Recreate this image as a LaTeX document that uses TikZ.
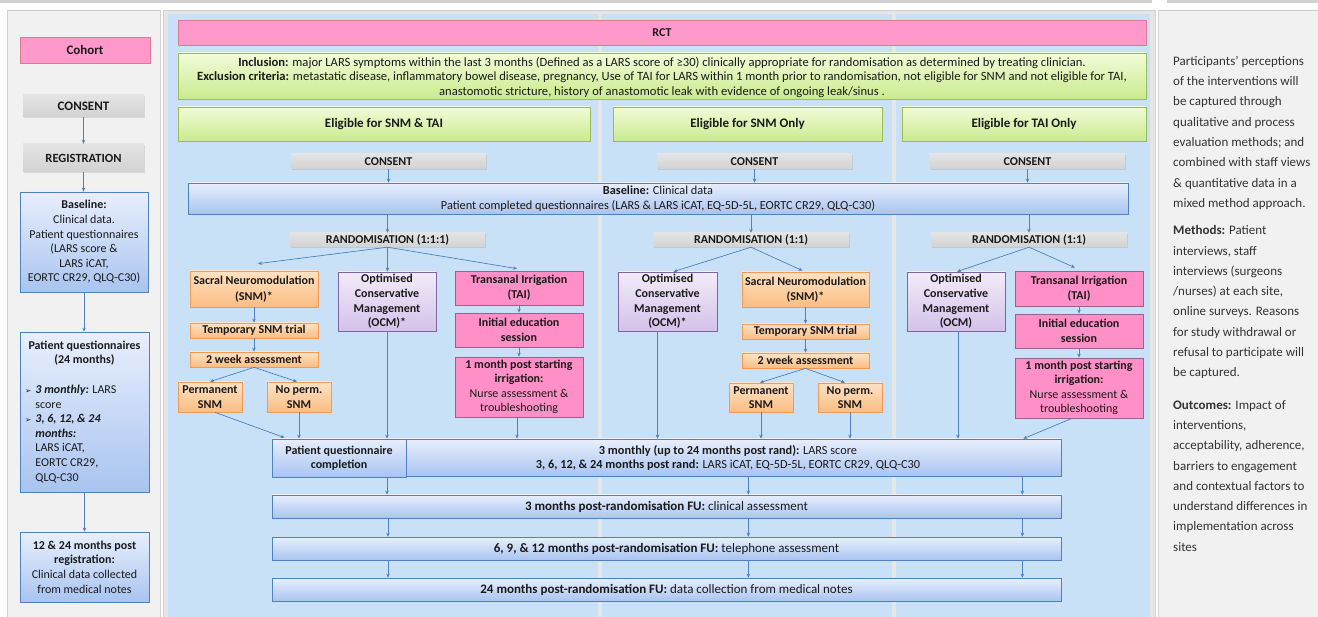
\documentclass[tikz,border=0pt]{standalone}
\usepackage{fontspec}
\setmainfont{Carlito}
\newfontfamily\dejavu{DejaVu Sans}
\usetikzlibrary{arrows.meta,shadows}
\definecolor{pinkc}{HTML}{FF99CC}
\definecolor{pinkd}{HTML}{DB7C92}
\definecolor{taic}{HTML}{FF8FC7}
\definecolor{taid}{HTML}{9E5F8E}
\definecolor{greent}{HTML}{F2FBD9}
\definecolor{greenb}{HTML}{C9EB8E}
\definecolor{greend}{HTML}{9BBB59}
\definecolor{grayt}{HTML}{E4E4E4}
\definecolor{grayb}{HTML}{D2D2D2}
\definecolor{oranget}{HTML}{FFE2C4}
\definecolor{orangeb}{HTML}{FBBD82}
\definecolor{oranged}{HTML}{F59A55}
\definecolor{purplet}{HTML}{F2EBF9}
\definecolor{purpleb}{HTML}{D3C2EA}
\definecolor{purpled}{HTML}{8064A2}
\definecolor{bluet}{HTML}{E8EFFD}
\definecolor{blueb}{HTML}{A9C4F0}
\definecolor{blued}{HTML}{4F81BD}
\definecolor{bgblue}{HTML}{C8E1F7}
\definecolor{panelgray}{HTML}{F1F1F1}
\definecolor{paneld}{HTML}{D0D0D0}
\definecolor{sepc}{HTML}{E6E6E6}
\definecolor{arrowc}{HTML}{4F81BD}
\definecolor{txt}{HTML}{1A1A1A}
\begin{document}
\begin{tikzpicture}[x=1pt,y=-1pt,
  base/.style={inner sep=1pt, align=center, text=txt,
    drop shadow={shadow xshift=1pt,shadow yshift=-1.2pt,opacity=0.22},
    font=\fontsize{12}{14.6}\selectfont},
  pinkbox/.style={base, fill=pinkc, draw=pinkd, line width=0.8pt},
  taibox/.style={base, fill=taic, draw=taid, line width=0.7pt},
  greenbox/.style={base, top color=greent, bottom color=greenb, draw=greend, line width=0.8pt},
  graybar/.style={base, top color=grayt, bottom color=grayb, draw=none},
  orangebox/.style={base, top color=oranget, bottom color=orangeb, draw=oranged, line width=0.7pt},
  purplebox/.style={base, top color=purplet, bottom color=purpleb, draw=purpled, line width=0.7pt},
  bluebox/.style={base, top color=bluet, bottom color=blueb, draw=blued, line width=0.7pt},
  plain/.style={inner sep=0pt, text=txt},
  bfs/.style={font=\fontsize{12}{14.6}\selectfont\bfseries},
  arr/.style={-{Stealth[length=4pt,width=3.5pt]}, draw=arrowc, line width=0.7pt}
]
\useasboundingbox (0,0) rectangle (1318,617);
\fill[white] (0,0) rectangle (1318,617);
% top strip
\fill[paneld] (0,0) rectangle (1152,3);
\fill[paneld] (1167,0) rectangle (1318,3);
% panels
\filldraw[fill=panelgray, draw=paneld] (7,10) rectangle (160,619);
\filldraw[fill=sepc, draw=paneld] (163,10) rectangle (1155,619);
\fill[bgblue] (168,14) rectangle (1150,619);
\fill[sepc] (598,14) rectangle (602,619);
\fill[sepc] (892,14) rectangle (896,619);
\filldraw[fill=panelgray, draw=paneld] (1158,10) rectangle (1320,619);

% ---------- left column ----------
\node[pinkbox, minimum width=130, minimum height=26, font=\fontsize{13}{14}\selectfont\bfseries] (cohort) at (85,50) {Cohort};
\node[graybar, minimum width=121, minimum height=22, font=\fontsize{13}{14}\selectfont\bfseries] (consentL) at (83.5,106) {CONSENT};
\node[graybar, minimum width=121, minimum height=28, font=\fontsize{12.5}{14}\selectfont\bfseries] (regL) at (83.5,158) {REGISTRATION};
\node[bluebox, minimum width=128, minimum height=100] (baseL) at (84,242)
  {\textbf{Baseline:}\\Clinical data.\\Patient questionnaires\\(LARS score \&\\LARS iCAT,\\EORTC CR29, QLQ-C30)};
\node[bluebox, minimum width=129, minimum height=160] (pqL) at (84.5,412) {};
\node[plain, anchor=north, align=center, bfs] (pqLt) at (84.5,340.5)
  {Patient questionnaires\\(24 months)};
\node[plain, anchor=north west, font=\fontsize{12}{14.6}\selectfont] (pqLb) at (25,383)
  {\begin{tabular}{@{}l@{\hspace{4pt}}l@{}}
   {\dejavu\fontsize{7.5}{7}\selectfont ➢} & \textbf{\textit{3 monthly:}} LARS\\
   & score\\
   {\dejavu\fontsize{7.5}{7}\selectfont ➢} & \textbf{\textit{3, 6, 12, \& 24}}\\
   & \textbf{\textit{months:}}\\
   & LARS iCAT,\\
   & EORTC CR29,\\
   & QLQ-C30
   \end{tabular}};
\node[bluebox, minimum width=129, minimum height=70] (fuL) at (84.5,567)
  {\textbf{12 \& 24 months post}\\\textbf{registration:}\\Clinical data collected\\from medical notes};
\draw[arr] (consentL.south) -- (consentL.south |- regL.north);
\draw[arr] (regL.south) -- (regL.south |- baseL.north);
\draw[arr] (baseL.south) -- (baseL.south |- pqL.north);
\draw[arr] (pqL.south) -- (pqL.south |- fuL.north);

% ---------- RCT header ----------
\node[pinkbox, minimum width=968, minimum height=25, bfs] (rct) at (662,32.5) {RCT};
\node[greenbox, minimum width=968, minimum height=46] (incl) at (662,76) {};
\node[plain, align=center, font=\fontsize{12.6}{14.5}\selectfont] (inclt) at (662,77)
  {\textbf{Inclusion:} major LARS symptoms within the last 3 months (Defined as a LARS score of ≥30) clinically appropriate for randomisation as determined by treating clinician.\\
   \textbf{Exclusion criteria:} metastatic disease, inflammatory bowel disease, pregnancy, Use of TAI for LARS within 1 month prior to randomisation, not eligible for SNM and not eligible for TAI,\\
   anastomotic stricture, history of anastomotic leak with evidence of ongoing leak/sinus .};
\node[greenbox, minimum width=412, minimum height=34, font=\fontsize{13}{14}\selectfont\bfseries] (elig1) at (384,124) {Eligible for SNM \& TAI};
\node[greenbox, minimum width=269, minimum height=34, font=\fontsize{13}{14}\selectfont\bfseries] (elig2) at (747.5,124) {Eligible for SNM Only};
\node[greenbox, minimum width=244, minimum height=34, font=\fontsize{13}{14}\selectfont\bfseries] (elig3) at (1024,124) {Eligible for TAI Only};

\node[graybar, minimum width=195, minimum height=15, bfs] (consent1) at (388.5,161.5) {CONSENT};
\node[graybar, minimum width=195, minimum height=15, bfs] (consent2) at (754.5,161.5) {CONSENT};
\node[graybar, minimum width=195, minimum height=15, bfs] (consent3) at (1027.5,161.5) {CONSENT};

\node[bluebox, minimum width=940, minimum height=31, font=\fontsize{12.3}{14.5}\selectfont] (baseline) at (658,198.5)
  {\textbf{Baseline:} Clinical data\\Patient completed questionnaires (LARS \& LARS iCAT, EQ-5D-5L, EORTC CR29, QLQ-C30)};

\node[graybar, minimum width=195, minimum height=14, bfs] (rand1) at (387.5,240) {RANDOMISATION (1:1:1)};
\node[graybar, minimum width=196, minimum height=14, bfs] (rand2) at (751,240) {RANDOMISATION (1:1)};
\node[graybar, minimum width=196, minimum height=14, bfs] (rand3) at (1029,240) {RANDOMISATION (1:1)};

\draw[arr] (consent1.south) -- (consent1.south |- baseline.north);
\draw[arr] (consent2.south) -- (consent2.south |- baseline.north);
\draw[arr] (consent3.south) -- (consent3.south |- baseline.north);
\draw[arr] (rand1.north |- baseline.south) -- (rand1.north);
\draw[arr] (rand2.north |- baseline.south) -- (rand2.north);
\draw[arr] (rand3.north |- baseline.south) -- (rand3.north);

% ---------- column 1 ----------
\node[orangebox, minimum width=128, minimum height=36, font=\fontsize{12}{15.5}\selectfont\bfseries] (snm1) at (254,289) {Sacral Neuromodulation\\(SNM)*};
\node[purplebox, minimum width=98, minimum height=59, bfs] (ocm1) at (387,301.5) {Optimised\\Conservative\\Management\\(OCM)*};
\node[taibox, minimum width=128, minimum height=34, font=\fontsize{12}{15}\selectfont\bfseries] (tai1) at (519,288) {Transanal Irrigation\\(TAI)};
\node[taibox, minimum width=128, minimum height=34, font=\fontsize{12}{15}\selectfont\bfseries] (edu1) at (519,330) {Initial education\\session};
\node[taibox, minimum width=128, minimum height=60, font=\fontsize{12}{14.4}\selectfont] (mon1) at (519,387) {\textbf{1 month post starting}\\\textbf{irrigation:}\\Nurse assessment \&\\troubleshooting};
\node[orangebox, minimum width=128, minimum height=15, bfs] (trial1) at (254,330.5) {Temporary SNM trial};
\node[orangebox, minimum width=128, minimum height=15, bfs] (wk1) at (254,359.5) {2 week assessment};
\node[orangebox, minimum width=64, minimum height=30, bfs] (perm1) at (210,397) {Permanent\\SNM};
\node[orangebox, minimum width=64, minimum height=30, bfs] (noperm1) at (299,397) {No perm.\\SNM};

% ---------- column 2 ----------
\node[purplebox, minimum width=99, minimum height=59, bfs] (ocm2) at (667.5,301.5) {Optimised\\Conservative\\Management\\(OCM)*};
\node[orangebox, minimum width=127, minimum height=35, font=\fontsize{12}{15.5}\selectfont\bfseries] (snm2) at (805.5,289.5) {Sacral Neuromodulation\\(SNM)*};
\node[orangebox, minimum width=127, minimum height=15, bfs] (trial2) at (805.5,331.5) {Temporary SNM trial};
\node[orangebox, minimum width=127, minimum height=15, bfs] (wk2) at (805.5,360.5) {2 week assessment};
\node[orangebox, minimum width=64, minimum height=29, bfs] (perm2) at (761,397.5) {Permanent\\SNM};
\node[orangebox, minimum width=64, minimum height=29, bfs] (noperm2) at (850,397.5) {No perm.\\SNM};

% ---------- column 3 ----------
\node[purplebox, minimum width=98, minimum height=59, bfs] (ocm3) at (956,301.5) {Optimised\\Conservative\\Management\\(OCM)};
\node[taibox, minimum width=128, minimum height=35, font=\fontsize{12}{15}\selectfont\bfseries] (tai3) at (1079,288.5) {Transanal Irrigation\\(TAI)};
\node[taibox, minimum width=128, minimum height=34, font=\fontsize{12}{15}\selectfont\bfseries] (edu3) at (1079,331) {Initial education\\session};
\node[taibox, minimum width=128, minimum height=60, font=\fontsize{12}{14.4}\selectfont] (mon3) at (1079,388) {\textbf{1 month post starting}\\\textbf{irrigation:}\\Nurse assessment \&\\troubleshooting};

% ---------- bottom boxes ----------
\node[bluebox, minimum width=789, minimum height=37] (big) at (666.5,457.5) {};
\node[plain, align=center, font=\fontsize{12.3}{14.5}\selectfont] (bigt) at (728,458)
  {\textbf{3 monthly (up to 24 months post rand):} LARS score\\\textbf{3, 6, 12, \& 24 months post rand:} LARS iCAT, EQ-5D-5L, EORTC CR29, QLQ-C30};
\node[bluebox, minimum width=134, minimum height=38, font=\fontsize{12}{14.5}\selectfont\bfseries] (pq) at (339,458) {Patient questionnaire\\completion};
\node[bluebox, minimum width=789, minimum height=23, font=\fontsize{13}{14.5}\selectfont] (m3) at (666.5,506.5) {\textbf{3 months post-randomisation FU:} clinical assessment};
\node[bluebox, minimum width=789, minimum height=23, font=\fontsize{13}{14.5}\selectfont] (m6) at (666.5,548.5) {\textbf{6, 9, \& 12 months post-randomisation FU:} telephone assessment};
\node[bluebox, minimum width=789, minimum height=23, font=\fontsize{13}{14.5}\selectfont] (m24) at (666.5,589.5) {\textbf{24 months post-randomisation FU:} data collection from medical notes};

% ---------- arrows column 1 ----------
\draw[arr] (rand1.south) -- ([xshift=4pt,yshift=7pt]snm1.north);
\draw[arr] (rand1.south) -- (rand1.south |- ocm1.north);
\draw[arr] (rand1.south) -- ([xshift=-2pt,yshift=2pt]tai1.north);
\draw[arr] (snm1.south) -- (trial1.north);
\draw[arr] (trial1.south) -- (wk1.north);
\draw[arr] (wk1.south) -- (perm1.north);
\draw[arr] (wk1.south) -- ([xshift=-2pt]noperm1.north);
\draw[arr] ([xshift=5pt]perm1.south) -- ([xshift=13pt,yshift=1pt]pq.north west);
\draw[arr] (noperm1.south) -- (noperm1.south |- pq.north);
\draw[arr] (ocm1.south) -- (ocm1.south |- big.north);
\draw[arr] (tai1.south) -- (edu1.north);
\draw[arr] (edu1.south) -- (edu1.south |- mon1.north);
\draw[arr] ([xshift=-2pt]mon1.south) -- ([xshift=-2pt]mon1.south |- big.north);

% ---------- arrows column 2 ----------
\draw[arr] (rand2.south) -- ([xshift=6pt]ocm2.north);
\draw[arr] (rand2.south) -- ([xshift=-3pt,yshift=1pt]snm2.north);
\draw[arr] ([xshift=-10pt]ocm2.south) -- ([xshift=-10pt]ocm2.south |- big.north);
\draw[arr] (snm2.south) -- (trial2.north);
\draw[arr] (trial2.south) -- (wk2.north);
\draw[arr] (wk2.south) -- ([xshift=-1pt]perm2.north);
\draw[arr] (wk2.south) -- ([xshift=-5pt]noperm2.north);
\draw[arr] (perm2.south) -- (perm2.south |- big.north);
\draw[arr] (noperm2.south) -- (noperm2.south |- big.north);

% ---------- arrows column 3 ----------
\draw[arr] (rand3.south) -- ([xshift=1pt]ocm3.north);
\draw[arr] (rand3.south) -- ([xshift=-4pt,yshift=3pt]tai3.north);
\draw[arr] ([xshift=2pt]ocm3.south) -- ([xshift=2pt]ocm3.south |- big.north);
\draw[arr] (tai3.south) -- (edu3.north);
\draw[arr] (edu3.south) -- (mon3.north);
\draw[arr] ([xshift=-7pt]mon3.south) -- ([xshift=-38pt]big.north east);

% ---------- arrows bottom ----------
\draw[arr] ([xshift=48pt]pq.south) -- ([xshift=48pt]pq.south |- m3.north);
\draw[arr] ([xshift=-313pt]big.south east) -- ([xshift=-313pt]m3.north east);
\draw[arr] ([xshift=-39pt]big.south east) -- ([xshift=-39pt]m3.north east);
\draw[arr] ([xshift=-278.5pt]m3.south) -- ([xshift=-278.5pt]m6.north);
\draw[arr] ([xshift=-313pt]m3.south east) -- ([xshift=-313pt]m6.north east);
\draw[arr] ([xshift=-39pt]m3.south east) -- ([xshift=-39pt]m6.north east);
\draw[arr] ([xshift=-278.5pt]m6.south) -- ([xshift=-278.5pt]m24.north);
\draw[arr] ([xshift=-313pt]m6.south east) -- ([xshift=-313pt]m24.north east);
\draw[arr] ([xshift=-39pt]m6.south east) -- ([xshift=-39pt]m24.north east);

% ---------- right panel ----------
\node[plain, anchor=north west, align=left, text=black!80, font=\fontsize{13}{20.3}\selectfont] (rtext) at (1173,56)
  {Participants’ perceptions\\of the interventions will\\be captured through\\qualitative and process\\evaluation methods; and\\combined with staff views\\\& quantitative data in a\\mixed method approach.\\[7pt]
   \textbf{Methods:} Patient\\interviews, staff\\interviews (surgeons\\/nurses) at each site,\\online surveys. Reasons\\for study withdrawal or\\refusal to participate will\\be captured.\\[12pt]
   \textbf{Outcomes:} Impact of\\interventions,\\acceptability, adherence,\\barriers to engagement\\and contextual factors to\\understand differences in\\implementation across\\sites};
\end{tikzpicture}
\end{document}
